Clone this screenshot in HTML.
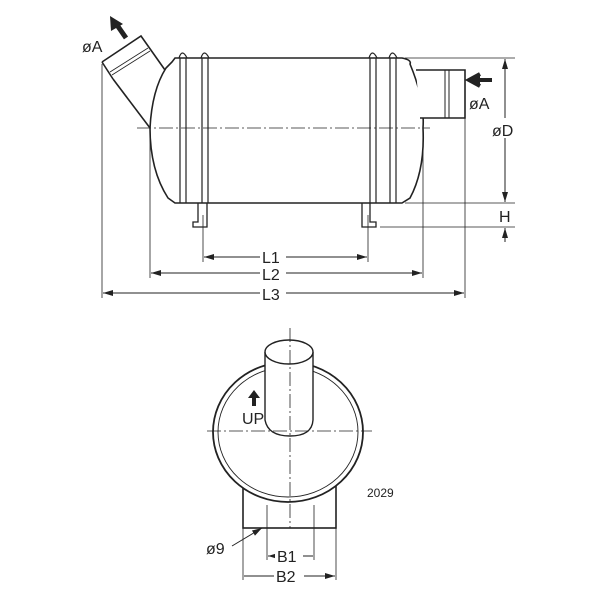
<!DOCTYPE html>
<html><head><style>body{margin:0;background:#fff}svg{display:block}text{font-family:"Liberation Sans",sans-serif;fill:#222}</style></head><body>
<svg width="600" height="600" viewBox="0 0 600 600" xmlns="http://www.w3.org/2000/svg">
<defs><marker id="a" markerWidth="10" markerHeight="6" refX="10" refY="3" orient="auto-start-reverse"><path d="M0,0 L10,3 L0,6z" fill="#222"/></marker></defs>
<g fill="none" stroke="#222" stroke-width="1.6">
<path d="M175,58 L402,58 Q412,60 410,64 Q425,100 423,128 Q425,170 410,198 L402,203 L175,203 L168,198 Q150,170 150,128 Q152,90 166,68 L172,62 Z" fill="#fff"/>
<g stroke-width="1.2">
<path d="M180,58 V203 M186,58 V203 M202,58 V203 M208,58 V203 M370,58 V203 M376,58 V203 M390,58 V203 M396,58 V203"/>
<path d="M179,58 q3,-10 8,0 M201,58 q3,-10 8,0 M369,58 q3,-10 8,0 M389,58 q3,-10 8,0"/>
</g>
<path d="M198,203 V222 h-5 v5 h14 v-24 M362,203 V227 h14 v-5 h-6 v-19" stroke-width="1.3"/>
<path d="M416,70 H465 V118 H420" fill="#fff"/>
<path d="M445,70 V118 M449,70 V118" stroke-width="1"/>
<path d="M113,79 L150,128" />
<path d="M102,62 L141,36 L165,70" fill="#fff"/>
<path d="M102,62 L113,79" />
<path d="M110,72 L148,48 M112,75 L150,51" stroke-width="0.8"/>
<path d="M137,128 H430" stroke-width="0.8" stroke-dasharray="14,3,2,3"/>
<g stroke-width="0.8">
<path d="M102,64 V298 M150,130 V278 M203,215 V262 M368,215 V262 M423,130 V278 M465,118 V298"/>
<path d="M405,58 H515 M405,203 H515 M380,227 H515"/>
</g>
<g stroke-width="1" marker-start="url(#a)" marker-end="url(#a)">
<path d="M204,257 H367"/><path d="M151,273 H422"/><path d="M103,293 H464"/>
<path d="M505,59 V202"/>
</g>
<path d="M505,188 V202 M505,242 V228" stroke-width="1" marker-end="url(#a)"/>
</g>
<rect x="260" y="248" width="26" height="16" fill="#fff"/><rect x="260" y="265" width="26" height="16" fill="#fff"/><rect x="260" y="285" width="26" height="16" fill="#fff"/><rect x="494" y="118" width="24" height="20" fill="#fff"/>
<text x="262" y="263" font-size="16">L1</text><text x="262" y="280" font-size="16">L2</text><text x="262" y="300" font-size="16">L3</text>
<text x="492" y="136" font-size="16">øD</text><text x="499" y="222" font-size="16">H</text>
<text x="469" y="109" font-size="16">øA</text><text x="82" y="52" font-size="16">øA</text>
<path d="M492,80 H478 M480,74 L469,80 L480,86" stroke="#222" stroke-width="4" fill="#222"/>
<path d="M126,38 L117,25" stroke="#222" stroke-width="5"/><path d="M110,16 L123,24 L111,31z" fill="#222"/>
<g fill="none" stroke="#222">
<rect x="243" y="480" width="93" height="48" stroke-width="1.6" fill="#fff"/>
<ellipse cx="288" cy="432" rx="75" ry="70" stroke-width="1.8" fill="#fff"/>
<ellipse cx="288" cy="432" rx="70" ry="65" stroke-width="0.9"/>
<path d="M265,352 V420 Q268,436 290,436 Q312,436 313,420 V352" stroke-width="1.4" fill="#fff"/>
<ellipse cx="289" cy="352" rx="24" ry="12" stroke-width="1.4" fill="#fff"/>
<g stroke-width="0.8" stroke-dasharray="14,3,2,3"><path d="M207,431 H372"/><path d="M290,328 V528"/></g>
<path d="M267,505 V560 M314,505 V560 M243,528 V580 M336,528 V580" stroke-width="0.8"/>
<path d="M268,556 H313 M244,576 H335" stroke-width="1" marker-start="url(#a)" marker-end="url(#a)"/>
<path d="M232,546 L262,528" stroke-width="1" marker-end="url(#a)"/>
</g>
<rect x="275" y="547" width="28" height="17" fill="#fff"/><rect x="274" y="567" width="30" height="17" fill="#fff"/>
<text x="277" y="562" font-size="16">B1</text><text x="276" y="582" font-size="16">B2</text>
<text x="206" y="554" font-size="16">ø9</text><text x="367" y="497" font-size="12">2029</text>
<text x="242" y="424" font-size="16">UP</text>
<path d="M252,406 V398 H248 L254,390 L260,398 H256 V406z" fill="#222"/>
</svg>
</body></html>
